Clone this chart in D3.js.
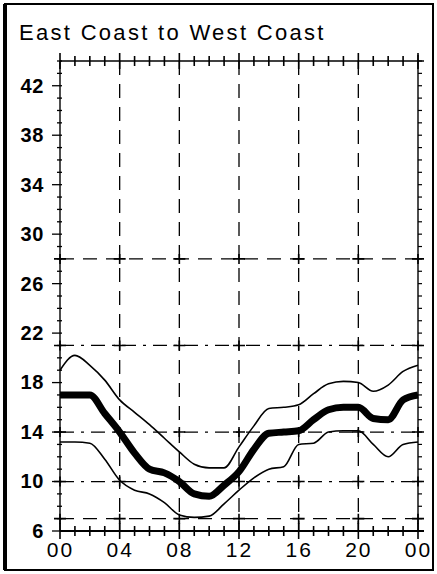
<!DOCTYPE html>
<html>
<head>
<meta charset="utf-8">
<script src="https://cdn.jsdelivr.net/npm/d3@7"></script>
<style>
  html, body { margin: 0; padding: 0; background: #fff; }
  svg { display: block; }
</style>
</head>
<body>
<svg id="chart" width="437" height="574"></svg>
<script>
// Hour of day (0 = 00, 24 = 00 of the following day)
const hours = d3.range(0, 25);

// Upper band, typical value and lower band, one value per hour
const upperValues = [19.0, 20.2, 19.4, 18.2, 16.6, 15.6, 14.6, 13.5, 12.4, 11.4, 11.1, 11.1, 12.8,
                     14.5, 15.9, 16.0, 16.2, 17.1, 17.9, 18.1, 18.0, 17.3, 17.8, 18.9, 19.4];
const middleValues = [17.0, 17.0, 17.0, 15.5, 14.0, 12.3, 11.0, 10.7, 10.0, 9.0, 8.8, 9.7, 10.8,
                      12.6, 13.9, 14.0, 14.1, 15.0, 15.8, 16.0, 16.0, 15.1, 15.0, 16.6, 17.0];
const lowerValues = [13.2, 13.2, 13.1, 11.8, 10.1, 9.3, 9.0, 8.3, 7.3, 7.1, 7.2, 8.2, 9.3,
                     10.3, 11.0, 11.2, 13.0, 13.1, 14.0, 14.1, 14.1, 13.0, 12.0, 13.0, 13.2];

// Axis ticks and labels
const xTickValues = [0, 4, 8, 12, 16, 20, 24];
const xTickLabels = ["00", "04", "08", "12", "16", "20", "00"];
const yTickValues = [6, 10, 14, 18, 22, 26, 30, 34, 38, 42];
const hGridValues = [7, 10, 14, 21, 28];

const svg = d3.select("#chart");

const x = d3.scaleLinear().domain([0, 24]).range([60, 418]);
const y = d3.scaleLinear().domain([6, 44]).range([531, 61]);

// Outer frame
svg.append("rect")
  .attr("x", 5).attr("y", 4).attr("width", 428).attr("height", 566)
  .attr("fill", "none").attr("stroke", "#000").attr("stroke-width", 2);
svg.append("line")
  .attr("x1", 5).attr("x2", 5).attr("y1", 4).attr("y2", 570)
  .attr("stroke", "#000").attr("stroke-width", 4);

// Title
svg.append("text")
  .attr("x", 19).attr("y", 40)
  .attr("font-family", "Liberation Sans, Arial, sans-serif")
  .attr("font-size", 22)
  .attr("letter-spacing", 2.3)
  .attr("fill", "#000")
  .text("East Coast to West Coast");

const grid = svg.append("g").attr("stroke", "#000").attr("fill", "none");

// Vertical dashed grid lines every four hours
grid.selectAll(".vgrid")
  .data(xTickValues.slice(1, -1))
  .join("line")
  .attr("class", "vgrid")
  .attr("x1", d => x(d)).attr("x2", d => x(d))
  .attr("y1", y(44)).attr("y2", y(6))
  .attr("stroke-width", 1.3)
  .attr("stroke-dasharray", "14,9");

// Horizontal dashed grid lines
grid.selectAll(".hgrid")
  .data(hGridValues)
  .join("line")
  .attr("class", "hgrid")
  .attr("x1", x(0)).attr("x2", x(24))
  .attr("y1", d => y(d)).attr("y2", d => y(d))
  .attr("stroke-width", 1.3)
  .attr("stroke-dasharray", d => (d === 10 || d === 14 || d === 21) ? "14,7,3,7" : "14,9");

// Cross marks where the grid lines meet
const crosses = [];
hGridValues.forEach(v => xTickValues.forEach(h => crosses.push([h, v])));
grid.selectAll(".cross")
  .data(crosses)
  .join("path")
  .attr("class", "cross")
  .attr("d", d => {
    const cx = x(d[0]), cy = y(d[1]);
    return `M${cx - 6},${cy}H${cx + 6}M${cx},${cy - 5}V${cy + 5}`;
  })
  .attr("stroke-width", 1.6);

// Plot box edges
const box = svg.append("g").attr("stroke", "#000").attr("fill", "none");
box.append("line").attr("x1", x(0)).attr("x2", x(0)).attr("y1", y(44)).attr("y2", y(6)).attr("stroke-width", 1.4);
box.append("line").attr("x1", x(24)).attr("x2", x(24)).attr("y1", y(44) - 6).attr("y2", y(6)).attr("stroke-width", 1.4);
box.append("line").attr("x1", x(0)).attr("x2", x(24) + 6).attr("y1", y(44)).attr("y2", y(44)).attr("stroke-width", 1.6);
box.append("line").attr("x1", x(0)).attr("x2", x(24) + 6).attr("y1", y(6)).attr("y2", y(6)).attr("stroke-width", 2.2);

// Hourly cross ticks on the top and bottom edges
const hourTicks = (yPos, len) => box.append("g").selectAll("line")
  .data(hours)
  .join("line")
  .attr("x1", d => x(d)).attr("x2", d => x(d))
  .attr("y1", d => yPos - (d % 4 === 0 ? len + 3 : len))
  .attr("y2", d => yPos + (d % 4 === 0 ? len + 3 : len))
  .attr("stroke-width", 1.6);
hourTicks(y(44), 5);
hourTicks(y(6), 5);

// Unit ticks on the left and right edges
const units = d3.range(6, 45);
box.append("g").selectAll("line")
  .data(units)
  .join("line")
  .attr("x1", d => x(0) - (yTickValues.includes(d) ? 8 : 3))
  .attr("x2", x(0) + 2)
  .attr("y1", d => y(d)).attr("y2", d => y(d))
  .attr("stroke-width", 1.3);
box.append("g").selectAll("line")
  .data(units)
  .join("line")
  .attr("x1", x(24)).attr("x2", x(24) + 4)
  .attr("y1", d => y(d)).attr("y2", d => y(d))
  .attr("stroke-width", 1.2);

// Axis labels
const yAxis = svg.append("g")
  .attr("transform", `translate(${x(0)},0)`)
  .call(d3.axisLeft(y).tickValues(yTickValues).tickSize(0).tickPadding(16).tickFormat(d3.format("d")));
yAxis.select(".domain").remove();
yAxis.selectAll("text")
  .attr("font-family", "Liberation Sans, Arial, sans-serif")
  .attr("font-size", 20)
  .attr("font-weight", "bold")
  .attr("letter-spacing", 0.6)
  .attr("fill", "#000");

const xAxis = svg.append("g")
  .attr("transform", `translate(0,${y(6)})`)
  .call(d3.axisBottom(x).tickValues(xTickValues).tickSize(0).tickPadding(11)
    .tickFormat((d, i) => xTickLabels[i]));
xAxis.select(".domain").remove();
xAxis.selectAll("text")
  .attr("font-family", "Liberation Sans, Arial, sans-serif")
  .attr("font-size", 21)
  .attr("letter-spacing", 2)
  .attr("fill", "#000");

// Data lines
const line = vals => d3.line()
  .x((d, i) => x(hours[i]))
  .y(d => y(d))
  .curve(d3.curveMonotoneX)(vals);

svg.append("path").attr("d", line(upperValues))
  .attr("fill", "none").attr("stroke", "#000").attr("stroke-width", 1.6);
svg.append("path").attr("d", line(lowerValues))
  .attr("fill", "none").attr("stroke", "#000").attr("stroke-width", 1.6);
svg.append("path").attr("d", line(middleValues))
  .attr("fill", "none").attr("stroke", "#000").attr("stroke-width", 7)
  .attr("stroke-linejoin", "round");
</script>
</body>
</html>
